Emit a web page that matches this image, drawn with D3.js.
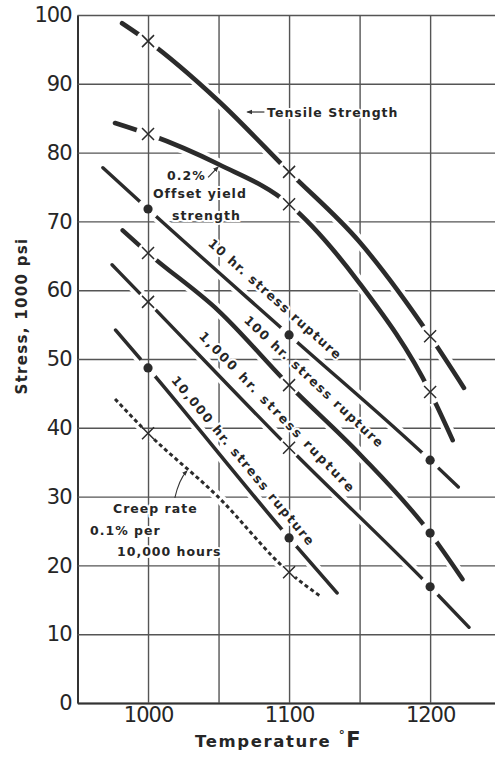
<!DOCTYPE html>
<html>
<head>
<meta charset="utf-8">
<script src="https://cdn.jsdelivr.net/npm/d3@7/dist/d3.min.js"></script>
<style>
body{margin:0;background:#fff;}
text{font-family:"DejaVu Sans",sans-serif;fill:#262626;}
.lbl{font-weight:bold;font-size:12.5px;letter-spacing:1px;paint-order:stroke;stroke:#fff;stroke-width:4px;stroke-linejoin:round;}
</style>
</head>
<body>
<div class="chart"></div>
<script>
var w = 495;
var h = 759;

// temperature (F), stress (1000 psi)
var tensile  = [[981.6,98.8],[1000,96.2],[1050,87.5],[1100,77.2],[1150,67],[1200,53.3],[1224,45.8]];
var yield02  = [[976.6,84.3],[1000,82.7],[1050,78.3],[1100,72.5],[1150,61],[1200,45.2],[1216,38.2]];
var rup10    = [[968,77.8],[1000,71.8],[1100,53.5],[1200,35.3],[1220,31.4]];
var rup100   = [[982,68.7],[1000,65.4],[1050,57],[1100,46.2],[1150,36.2],[1200,24.7],[1223,18]];
var rup1000  = [[974.5,63.7],[1000,58.3],[1100,37.1],[1200,16.9],[1227.6,11]];
var rup10000 = [[977,54.2],[1000,48.7],[1100,24],[1134,16]];
var creep    = [[976.6,44.2],[1000,39.2],[1049,30.1],[1100,19],[1123,15.4]];

// test points plotted at these temperatures
var markTemps = [1000,1100,1200];
var tensileMarks  = ["x","x","x"];
var yieldMarks    = ["x","x","x"];
var rup10Marks    = ["dot","dot","dot"];
var rup100Marks   = ["x","x","dot"];
var rup1000Marks  = ["x","x","dot"];
var rup10000Marks = ["dot","dot"];
var creepMarks    = ["x","x"];

var stressTicks = [0,10,20,30,40,50,60,70,80,90,100];
var tempGrid = [1000,1050,1100,1150,1200];
var tempLabels = [1000,1100,1200];

var x = d3.scaleLinear().domain([950,1246]).range([77.5,495]);
var y = d3.scaleLinear().domain([0,100]).range([703,15]);

var svg = d3.select(".chart").append("svg")
            .attr("width",w)
            .attr("height",h);
var defs = svg.append("defs");
defs.append("marker")
    .attr("id","arrow")
    .attr("viewBox","0 0 10 10")
    .attr("refX",8).attr("refY",5)
    .attr("markerWidth",5).attr("markerHeight",5)
    .attr("orient","auto")
    .append("path")
    .attr("d","M0,1L10,5L0,9z")
    .attr("fill","#333");

// grid + axes
var yAxis = d3.axisLeft(y)
              .tickValues(stressTicks)
              .tickSize(-(x.range()[1]-x.range()[0]))
              .tickSizeOuter(0)
              .tickPadding(6);
var xAxis = d3.axisBottom(x)
              .tickValues(tempGrid)
              .tickSize(-(y(0)-y(100)))
              .tickSizeOuter(0)
              .tickPadding(4)
              .tickFormat(function(d){ return tempLabels.indexOf(d)>=0 ? d : ""; });

var gy = svg.append("g")
   .attr("transform","translate("+x.range()[0]+",0)")
   .call(yAxis);
var gx = svg.append("g")
   .attr("transform","translate(0,"+y(0)+")")
   .call(xAxis);
[gx,gy].forEach(function(g){
  g.selectAll(".tick line").attr("stroke","#555").attr("stroke-width",1.4);
  g.select(".domain").attr("stroke","#333").attr("stroke-width",2);
  g.selectAll(".tick text").attr("fill","#262626")
   .style("font-family","'DejaVu Sans',sans-serif")
   .style("font-size","21px")
   .style("letter-spacing","-1px");
});

// curves
var series = [
  {data:tensile,  marks:tensileMarks,  width:4.6, gap:12},
  {data:yield02,  marks:yieldMarks,    width:4.6, gap:12},
  {data:rup10,    marks:rup10Marks,    width:3.4, gap:11},
  {data:rup100,   marks:rup100Marks,   width:4.4, gap:11},
  {data:rup1000,  marks:rup1000Marks,  width:3.4, gap:11},
  {data:rup10000, marks:rup10000Marks, width:3.6, gap:11},
  {data:creep,    marks:creepMarks,    width:3,   gap:8, dash:"4,3"}
];

var line = d3.line()
             .x(function(d){ return x(d[0]); })
             .y(function(d){ return y(d[1]); })
             .curve(d3.curveMonotoneX);

function valueAt(data,t){
  return data.filter(function(d){ return d[0]===t; })[0][1];
}

series.forEach(function(s,i){
  s.points = s.marks.map(function(m,j){
    return {t:markTemps[j], v:valueAt(s.data,markTemps[j]), type:m};
  });
  var mask = defs.append("mask")
     .attr("id","gap"+i)
     .attr("maskUnits","userSpaceOnUse")
     .attr("x",0).attr("y",0).attr("width",w).attr("height",h);
  mask.append("rect").attr("width",w).attr("height",h).attr("fill","white");
  mask.selectAll("circle")
      .data(s.points)
      .enter()
      .append("circle")
      .attr("cx",function(d){ return x(d.t); })
      .attr("cy",function(d){ return y(d.v); })
      .attr("r",s.gap)
      .attr("fill","black");

  var g = svg.append("g").attr("mask","url(#gap"+i+")");
  g.append("path")
   .datum(s.data)
   .attr("d",line)
   .attr("fill","none")
   .attr("stroke","#fff")
   .attr("stroke-width",s.width+7);
  g.append("path")
   .datum(s.data)
   .attr("d",line)
   .attr("fill","none")
   .attr("stroke","#2b2b2b")
   .attr("stroke-width",s.width)
   .attr("stroke-linecap",s.dash ? "butt" : "round")
   .attr("stroke-dasharray",s.dash || null);
});

// markers
series.forEach(function(s){
  svg.append("g")
     .selectAll("circle")
     .data(s.points.filter(function(d){ return d.type==="dot"; }))
     .enter()
     .append("circle")
     .attr("cx",function(d){ return x(d.t); })
     .attr("cy",function(d){ return y(d.v); })
     .attr("r",4.6)
     .attr("fill","#2b2b2b");
  svg.append("g")
     .selectAll("path")
     .data(s.points.filter(function(d){ return d.type==="x"; }))
     .enter()
     .append("path")
     .attr("d",function(d){
       var cx = x(d.t), cy = y(d.v), r = 6;
       return "M"+(cx-r)+","+(cy-r)+"L"+(cx+r)+","+(cy+r)+"M"+(cx-r)+","+(cy+r)+"L"+(cx+r)+","+(cy-r);
     })
     .attr("stroke","#2b2b2b")
     .attr("stroke-width",1.5)
     .attr("fill","none");
});

// labels along the rupture curves
var slopeLabels = [
  {text:"10 hr. stress rupture",     data:rup10,    at:[1090.1,58.7], len:174},
  {text:"100 hr. stress rupture",    data:rup100,   at:[1117.7,46.7], len:186},
  {text:"1,000 hr. stress rupture",  data:rup1000,  at:[1091.5,42.3], len:218},
  {text:"10,000 hr. stress rupture", data:rup10000, at:[1067.4,35.2], len:216}
];
slopeLabels.forEach(function(l){
  var dx = x(1100)-x(1000);
  var dy = y(valueAt(l.data,1100))-y(valueAt(l.data,1000));
  var ang = Math.atan2(dy,dx)*180/Math.PI;
  svg.append("text")
     .attr("class","lbl")
     .attr("transform","translate("+x(l.at[0])+","+y(l.at[1])+") rotate("+ang+")")
     .attr("text-anchor","middle")
     .attr("dy","0.35em")
     .attr("textLength",l.len)
     .attr("lengthAdjust","spacing")
     .text(l.text);
});

// other annotations
var notes = [
  {text:"Tensile Strength", at:[1084.4,85.2]},
  {text:"0.2%",             at:[1013.5,76.0]},
  {text:"Offset yield",     at:[1003.5,73.4]},
  {text:"strength",         at:[1017,70.2]},
  {text:"Creep rate",       at:[975.2,27.6]},
  {text:"0.1% per",         at:[958.9,24.4]},
  {text:"10,000 hours",     at:[978,21.4]}
];
svg.append("g")
   .selectAll("text")
   .data(notes)
   .enter()
   .append("text")
   .attr("class","lbl")
   .attr("x",function(d){ return x(d.at[0]); })
   .attr("y",function(d){ return y(d.at[1]); })
   .text(function(d){ return d.text; });

var arrows = [
  {from:[1082.5,85.9], to:[1070.5,85.9]},
  {from:[1042.6,76.4], to:[1049.6,77.9]}
];
svg.append("g")
   .selectAll("line")
   .data(arrows)
   .enter()
   .append("line")
   .attr("x1",function(d){ return x(d.from[0]); })
   .attr("y1",function(d){ return y(d.from[1]); })
   .attr("x2",function(d){ return x(d.to[0]); })
   .attr("y2",function(d){ return y(d.to[1]); })
   .attr("stroke","#333")
   .attr("stroke-width",1.2)
   .attr("marker-end","url(#arrow)");
svg.append("path")
   .attr("d","M"+x(1019)+","+y(29.8)+"Q"+x(1022)+","+y(32.5)+" "+x(1027.5)+","+y(33.7))
   .attr("fill","none")
   .attr("stroke","#333")
   .attr("stroke-width",1.1)
   .attr("marker-end","url(#arrow)");

// axis titles
svg.append("text")
   .attr("transform","translate(27,316) rotate(-90)")
   .attr("text-anchor","middle")
   .style("font-weight","bold")
   .style("font-size","15px")
   .style("letter-spacing","1.3px")
   .text("Stress, 1000 psi");
var xt = svg.append("text")
   .attr("x",195)
   .attr("y",747)
   .style("font-weight","bold")
   .style("font-size","16.5px")
   .style("letter-spacing","1.6px");
xt.append("tspan").text("Temperature ");
xt.append("tspan").attr("dy",-8).style("font-size","12px").text("°");
xt.append("tspan").attr("dy",8).style("font-size","21px").text("F");
</script>
</body>
</html>
